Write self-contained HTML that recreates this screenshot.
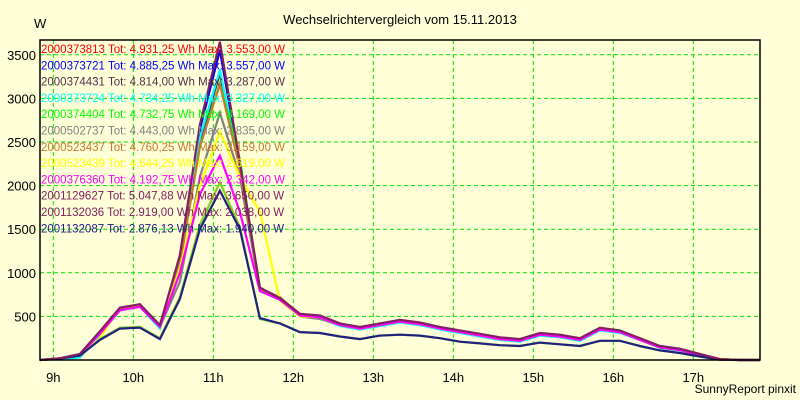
<!DOCTYPE html>
<html><head><meta charset="utf-8"><style>
body{margin:0;background:#ffffd8;}
svg{display:block;font-family:"Liberation Sans",Arial,sans-serif;}
</style></head><body>
<svg id="chart" width="800" height="400" xmlns="http://www.w3.org/2000/svg">
<rect width="800" height="400" fill="#ffffd8"/>
<text x="400" y="24" text-anchor="middle" font-size="13" fill="#000">Wechselrichtervergleich vom 15.11.2013</text>
<text x="34" y="28" font-size="13" fill="#000">W</text>
<g id="grid"></g><g id="series"></g><g id="legend"></g><g id="axes"></g>
<text x="796" y="393" text-anchor="end" font-size="12" fill="#000">SunnyReport pinxit</text>
</svg>
<script>
const times=[8.833,9.083,9.333,9.583,9.833,10.083,10.333,10.583,10.833,11.083,11.333,11.583,11.833,12.083,12.333,12.583,12.833,13.083,13.333,13.583,13.833,14.083,14.333,14.583,14.833,15.083,15.333,15.583,15.833,16.083,16.333,16.583,16.833,17.083,17.333,17.583,17.833];
const yTicks=[500,1000,1500,2000,2500,3000,3500];
const xTicks=[9,10,11,12,13,14,15,16,17];
const names=["2000373813","2000373721","2000374431","2000373724","2000374404","2000502737","2000523437","2000523439","2000376360","2001129627","2001132036","2001132087"];
const totals=["4.931,25","4.885,25","4.814,00","4.734,25","4.732,75","4.443,00","4.760,25","4.644,25","4.192,75","5.047,88","2.919,00","2.876,13"];
const maxes=["3.553,00","3.557,00","3.287,00","3.327,00","3.169,00","2.835,00","3.159,00","2.619,00","2.342,00","3.650,00","2.038,00","1.940,00"];
const colors=["#ff0000","#0000ff","#503048","#00ffff","#00ff00","#808080","#c87830","#ffff00","#ff00ff","#802060","#80d020","#202080"];
const sRed=[0,20,65,320,590,630,390,1200,2650,3553,2250,810,700,520,500,410,370,410,450,420,370,330,290,250,230,300,280,240,360,330,240,150,120,60,8,0,0];
const sBlue=[0,20,65,320,590,630,385,1180,2650,3557,2250,810,700,520,500,410,370,410,450,420,370,330,290,250,230,300,280,240,360,330,240,150,120,60,8,0,0];
const sDark=[0,20,65,320,590,630,390,1150,2500,3287,2200,810,700,520,500,410,370,410,450,420,370,330,290,250,230,300,280,240,360,330,240,150,120,60,8,0,0];
const sCyan=[0,10,30,290,570,610,360,1150,2550,3327,2200,790,690,500,480,390,350,390,430,400,350,310,270,230,210,280,260,220,340,310,230,140,110,55,5,0,0];
const sGreen=[0,20,60,310,580,620,380,1100,2450,3169,2300,800,700,510,490,400,360,400,440,410,360,320,280,240,220,290,270,230,350,320,230,145,115,55,6,0,0];
const sGray=[0,20,60,310,580,620,380,900,2100,2835,2100,800,720,500,470,400,360,400,440,410,360,320,280,240,220,290,270,230,350,320,230,145,115,55,6,0,0];
const sOrange=[0,20,65,320,590,630,390,1100,2450,3159,2200,820,720,520,500,410,370,410,450,420,370,330,290,250,230,300,280,240,360,330,240,150,125,65,10,0,0];
const sYellow=[0,15,55,250,600,640,380,1050,2000,2619,2100,1700,680,500,490,400,360,400,440,410,360,320,280,240,220,300,280,240,370,330,240,150,125,65,10,0,0];
const sMagenta=[0,20,60,300,570,610,380,1000,1900,2342,1700,790,690,510,490,400,360,400,440,410,360,320,280,240,220,290,270,230,350,320,230,145,115,55,6,0,0];
const sMaroon=[0,20,70,330,600,640,400,1200,2700,3650,2260,830,710,530,510,420,380,420,460,430,380,340,300,260,240,310,290,250,370,340,250,160,130,70,10,0,0];
const sPurple=[0,15,50,240,370,380,250,720,1550,2038,1520,470,420,320,310,270,240,280,290,280,250,210,190,170,160,200,180,160,220,220,160,110,80,40,5,0,0];
const sNavy=[0,15,50,230,360,370,240,700,1500,1940,1500,480,420,320,310,270,240,280,290,280,250,210,190,170,160,200,180,160,220,220,160,110,80,40,5,0,0];
const allSeries=[sRed,sBlue,sDark,sCyan,sGreen,sGray,sOrange,sYellow,sMagenta,sPurple,sNavy,sMaroon];
const drawColors=[0,1,2,3,4,5,6,7,8,10,11,9];
const ns="http://www.w3.org/2000/svg";
const L=40,R=760,T=40,B=360;
function xs(h){return 53.3+(h-9)*80;}
function ys(v){return 360-v*0.0872;}
function mk(tag,parent){const e=document.createElementNS(ns,tag);parent.appendChild(e);return e;}
const grid=document.getElementById('grid'),axes=document.getElementById('axes'),ser=document.getElementById('series'),leg=document.getElementById('legend');
yTicks.forEach(v=>{
 const l=mk('line',grid);
 
 
 l.setAttribute('x1',L);l.setAttribute('x2',R);l.setAttribute('y1',ys(v));l.setAttribute('y2',ys(v));
 l.setAttribute('stroke','#00e000');l.setAttribute('stroke-dasharray','4,3');
 const t=mk('text',axes);
 
 
 t.setAttribute('x',36);t.setAttribute('y',ys(v)+5);t.setAttribute('text-anchor','end');t.setAttribute('font-size','13');
 t.textContent=v;
});
xTicks.forEach(h=>{
 const l=mk('line',grid);
 
 
 l.setAttribute('x1',xs(h));l.setAttribute('x2',xs(h));l.setAttribute('y1',T);l.setAttribute('y2',B);
 l.setAttribute('stroke','#00e000');l.setAttribute('stroke-dasharray','4,3');
 const t=mk('text',axes);
 
 
 t.setAttribute('x',xs(h));t.setAttribute('y',382);t.setAttribute('text-anchor','middle');t.setAttribute('font-size','13');
 t.textContent=h+'h';
});
const frame=mk('rect',axes);


frame.setAttribute('x',L);frame.setAttribute('y',T);frame.setAttribute('width',R-L);frame.setAttribute('height',B-T);
frame.setAttribute('fill','none');frame.setAttribute('stroke','#000');frame.setAttribute('stroke-width','1.5');
allSeries.forEach((s,i)=>{
 const p=mk('polyline',ser);
 
 
 p.setAttribute('points',s.map((v,k)=>xs(times[k]).toFixed(1)+','+ys(v).toFixed(1)).join(' '));
 p.setAttribute('fill','none');p.setAttribute('stroke',colors[drawColors[i]]);p.setAttribute('stroke-width','2.2');
});
names.forEach((n,i)=>{
 const t=mk('text',leg);
 
 
 t.setAttribute('x',41);t.setAttribute('y',53+i*16.3);t.setAttribute('font-size','11.5');t.setAttribute('fill',colors[i]==='#80d020'?'#802060':colors[i]);
 t.textContent=n+' Tot: '+totals[i]+' Wh Max: '+maxes[i]+' W';
});
</script>
</body></html>
